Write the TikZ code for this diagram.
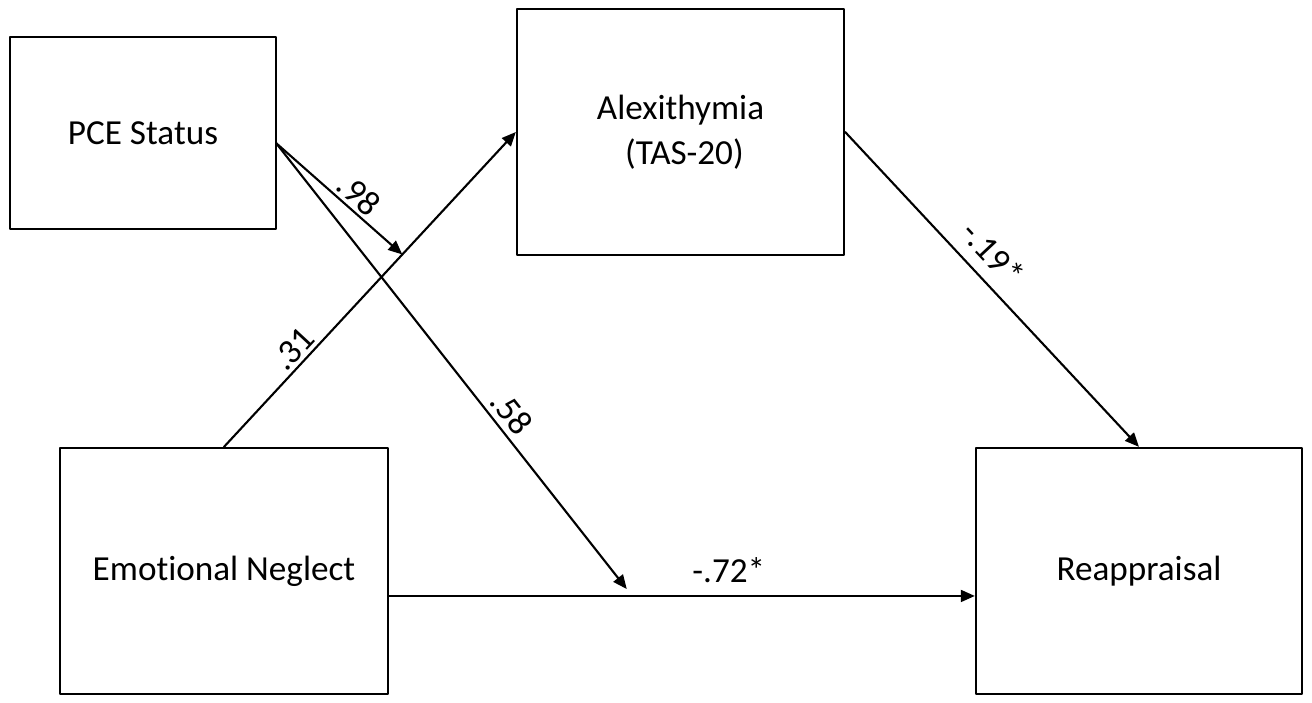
\documentclass[tikz,border=0pt]{standalone}
\usepackage{fontspec}
\setmainfont{Carlito}[Ligatures=NoCommon]
\usepackage{tikz}
\usetikzlibrary{arrows.meta}

\begin{document}
\begin{tikzpicture}[line cap=round,line join=round,>={Triangle[length=4pt,width=3.4pt]},x=0.01cm,y=0.01cm,
  box/.style={draw,line width=0.6pt,inner sep=0pt,align=center,font=\fontsize{10}{12.8}\selectfont},
  path/.style={draw,line width=0.6pt,->},
  coef/.style={sloped,above,font=\fontsize{10}{12}\selectfont}]
\useasboundingbox (0,0) rectangle (1312,703);
\node[box,minimum width=2.66cm,minimum height=1.92cm] (pce) at (143,570) {PCE Status};
\node[box,minimum width=3.27cm,minimum height=2.46cm] (alex) at (680.5,571) {Alexithymia\\ \ (TAS-20)};
\node[box,minimum width=3.28cm,minimum height=2.46cm] (en) at (224,132) {Emotional Neglect};
\node[box,minimum width=3.26cm,minimum height=2.46cm] (reap) at (1139,132) {Reappraisal};
\coordinate (pceout) at (276,560);
\draw[path] (en.north) -- node[coef,inner sep=0.9pt,pos=0.277] {.31} coordinate[pos=0.611] (modA) (alex.west);
\draw[path] ([yshift=-7.1pt]en.east) -- node[coef,inner sep=3.5pt,pos=0.58] {-.72*} coordinate[pos=0.415] (modB) ([yshift=-7.1pt]reap.west);
\draw[path] (alex.east) -- node[coef,inner sep=3.4pt,pos=0.44] {-.19*} (reap.north);
\draw[path] (pceout) -- node[coef,inner sep=0.9pt,pos=0.574] {.98} (modA);
\draw[path,shorten >=2.5pt] (pceout) -- node[coef,inner sep=1.6pt,pos=0.62] {.58} (modB);
\end{tikzpicture}
\end{document}
